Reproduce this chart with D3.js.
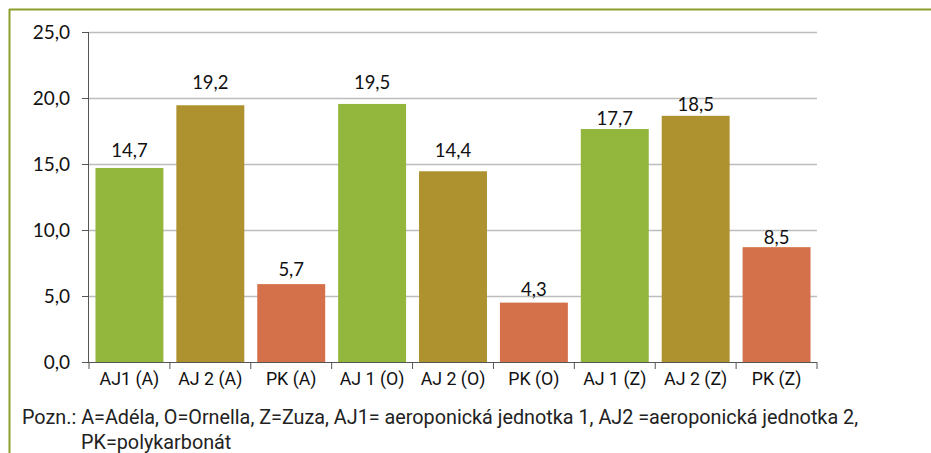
<!DOCTYPE html>
<html><head><meta charset="utf-8">
<script src="https://cdn.jsdelivr.net/npm/d3@7/dist/d3.min.js"></script>
<style>body{margin:0;background:#fff}</style></head>
<body>
<svg id="c" width="931" height="453"></svg>
<script>
const categories = ["AJ1 (A)","AJ 2 (A)","PK (A)","AJ 1 (O)","AJ 2 (O)","PK (O)","AJ 1 (Z)","AJ 2 (Z)","PK (Z)"];
const kinds = ["AJ1","AJ2","PK","AJ1","AJ2","PK","AJ1","AJ2","PK"];
const barValues = [14.7,19.45,5.9,19.55,14.45,4.5,17.65,18.65,8.7];
const labelTexts = ["14,7","19,2","5,7","19,5","14,4","4,3","17,7","18,5","8,5"];
const labelLevels = [15.55,20.66,6.5,20.66,15.55,5.0,17.95,19.0,8.94];
const yTicks = [0,5,10,15,20,25];
const noteLines = ["Pozn.: A=Adéla, O=Ornella, Z=Zuza, AJ1= aeroponická jednotka 1, AJ2 =aeroponická jednotka 2,","PK=polykarbonát"];

const colors = {AJ1:"#93b73d", AJ2:"#ae922f", PK:"#d4714a"};
const svg = d3.select("#c");
const X0 = 89, X1 = 817, Y0 = 362, Y1 = 32;

// frame
svg.append("line").attr("x1",9).attr("x2",931).attr("y1",9.5).attr("y2",9.5).attr("stroke","#8c9e2c").attr("stroke-width",2);
svg.append("line").attr("x1",9.5).attr("x2",9.5).attr("y1",9).attr("y2",453).attr("stroke","#8c9e2c").attr("stroke-width",2);

const x = d3.scaleBand().domain(categories).range([X0,X1]).paddingInner(0.16).paddingOuter(0.08);
const y = d3.scaleLinear().domain([0,25]).range([Y0,Y1]);
const fmt = v => d3.format(".1f")(v).replace(".", ",");

// gridlines
svg.append("g").selectAll("line").data(yTicks.filter(d=>d>0)).join("line")
  .attr("x1",X0).attr("x2",X1).attr("y1",d=>Math.round(y(d))+0.5).attr("y2",d=>Math.round(y(d))+0.5)
  .attr("stroke","#bdbdbd").attr("stroke-width",1.5);

// bars
svg.append("g").selectAll("rect").data(categories).join("rect")
  .attr("x",(d)=>x(d)).attr("width",x.bandwidth())
  .attr("y",(d,i)=>y(barValues[i])).attr("height",(d,i)=>y(0)-y(barValues[i]))
  .attr("fill",(d,i)=>colors[kinds[i]]);

// y axis
const yAxis = d3.axisLeft(y).tickValues(yTicks).tickFormat(fmt).tickSize(7).tickPadding(12);
const gy = svg.append("g").attr("transform",`translate(${X0},0)`).call(yAxis);
gy.select(".domain").attr("stroke","#555").attr("d",`M-0.5,${Y0}V${Y1}`);
gy.selectAll(".tick line").attr("stroke","#555");
gy.selectAll("text").attr("font-family","Lato, sans-serif").attr("font-size",19).attr("fill","#111");

// x axis
const gx = svg.append("g").attr("transform",`translate(0,${Y0})`);
gx.append("line").attr("x1",X0).attr("x2",X1).attr("y1",0.5).attr("y2",0.5).attr("stroke","#555");
const step = x.step();
gx.selectAll("line.t").data(d3.range(categories.length+1)).join("line").attr("class","t")
  .attr("x1",i=>X0+i*step).attr("x2",i=>X0+i*step).attr("y1",0).attr("y2",7).attr("stroke","#555");
gx.selectAll("text").data(categories).join("text")
  .attr("x",d=>x(d)+x.bandwidth()/2).attr("y",23)
  .attr("text-anchor","middle").attr("font-family","Roboto, sans-serif").attr("font-size",17.8).attr("fill","#111")
  .text(d=>d);

// data labels
svg.append("g").selectAll("text").data(categories).join("text")
  .attr("x",d=>x(d)+x.bandwidth()/2).attr("y",(d,i)=>y(labelLevels[i]))
  .attr("text-anchor","middle").attr("font-family","Lato, sans-serif").attr("font-size",18.5).attr("fill","#111")
  .text((d,i)=>labelTexts[i]);

// note
svg.append("g").selectAll("text").data(noteLines).join("text")
  .attr("x",(d,i)=>i===0?22:81).attr("y",(d,i)=>424+i*25)
  .attr("font-family","Roboto, sans-serif").attr("font-size",19.8).attr("fill","#222")
  .text(d=>d);
</script>
</body></html>
